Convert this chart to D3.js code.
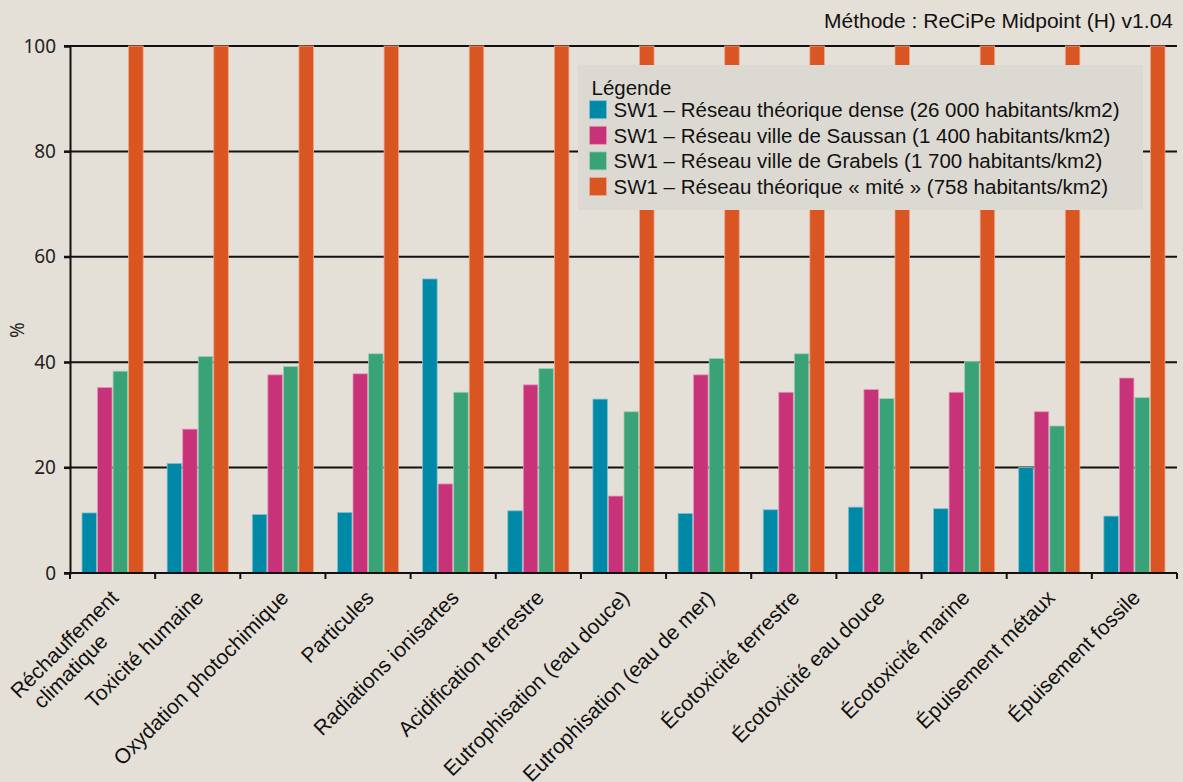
<!DOCTYPE html>
<html><head><meta charset="utf-8">
<script src="https://cdn.jsdelivr.net/npm/d3@7"></script>
<style>
html,body{margin:0;padding:0;background:#e5e0d7;}
svg{display:block;}
</style></head>
<body>
<svg id="c" width="1183" height="782"></svg>
<script>
const categories = [
  ["Réchauffement","climatique"],
  ["Toxicité humaine"],
  ["Oxydation photochimique"],
  ["Particules"],
  ["Radiations ionisartes"],
  ["Acidification terrestre"],
  ["Eutrophisation (eau douce)"],
  ["Eutrophisation (eau de mer)"],
  ["Écotoxicité terrestre"],
  ["Écotoxicité eau douce"],
  ["Écotoxicité marine"],
  ["Épuisement métaux"],
  ["Épuisement fossile"]
];
const seriesNames = [
  "SW1 – Réseau théorique dense (26 000 habitants/km2)",
  "SW1 – Réseau ville de Saussan (1 400 habitants/km2)",
  "SW1 – Réseau ville de Grabels (1 700 habitants/km2)",
  "SW1 – Réseau théorique « mité » (758 habitants/km2)"
];
const dense   = [11.4, 20.8, 11.1, 11.5, 55.8, 11.8, 33.0, 11.3, 12.0, 12.5, 12.2, 20.0, 10.8];
const saussan = [35.2, 27.3, 37.6, 37.8, 16.9, 35.7, 14.6, 37.6, 34.3, 34.8, 34.3, 30.6, 37.0];
const grabels = [38.3, 41.1, 39.2, 41.6, 34.3, 38.8, 30.6, 40.7, 41.6, 33.1, 40.1, 27.9, 33.3];
const mite    = [100, 100, 100, 100, 100, 100, 100, 100, 100, 100, 100, 100, 100];
const yTicks = [0, 20, 40, 60, 80, 100];
const colors = ["#0089a7", "#c83278", "#3aa277", "#d95622"];
const strokes = ["#7fc3cf", "#e397b9", "#9dd0bb", "#eca78f"];
const seriesValues = [dense, saussan, grabels, mite];

const FONT = "'Liberation Sans', Arial, sans-serif";
const svg = d3.select("#c");
const L = 70, R = 1177, T = 46, B = 573;
const catKeys = categories.map(c => c.join(" "));
const x0 = d3.scaleBand().domain(catKeys).range([L, R]).padding(0);
const bw = x0.bandwidth();
const x1 = d3.scaleBand().domain(d3.range(4)).range([bw*0.135, bw*0.865]).padding(0);
const y = d3.scaleLinear().domain([0, 100]).range([B, T]);

// gridlines
svg.append("g").selectAll("line").data(yTicks.filter(d => d > 0)).join("line")
  .attr("x1", L - 6).attr("x2", R).attr("y1", d => y(d)).attr("y2", d => y(d))
  .attr("stroke", "#111").attr("stroke-width", 2);

// bars
const g = svg.append("g");
categories.forEach((c, i) => {
  seriesValues.forEach((vals, s) => {
    g.append("rect")
      .attr("x", x0(catKeys[i]) + x1(s) + 0.5)
      .attr("y", y(vals[i]))
      .attr("width", x1.bandwidth() - 1)
      .attr("height", y(0) - y(vals[i]))
      .attr("fill", colors[s])
      .attr("stroke", strokes[s]).attr("stroke-width", 0.8);
  });
});

// y axis
const yAxis = d3.axisLeft(y).tickValues(yTicks).tickSize(6).tickPadding(8);
const ya = svg.append("g").attr("transform", `translate(${L},0)`).call(yAxis);
ya.select(".domain").attr("stroke", "#111").attr("stroke-width", 2);
ya.selectAll(".tick line").attr("stroke", "#111").attr("stroke-width", 2);
ya.selectAll(".tick text").attr("font-family", "'Noto Sans', sans-serif").attr("font-size", 19).attr("fill", "#222");

// x axis
const xa = svg.append("g").attr("transform", `translate(0,${B})`);
xa.append("line").attr("x1", L - 6).attr("x2", R).attr("y1", 0).attr("y2", 0).attr("stroke", "#111").attr("stroke-width", 2);
const bounds = catKeys.map(k => x0(k)).concat([R]);
xa.selectAll("line.t").data(bounds).join("line").attr("class", "t")
  .attr("x1", d => d).attr("x2", d => d).attr("y1", 0).attr("y2", 6)
  .attr("stroke", "#111").attr("stroke-width", 2);

// x labels
categories.forEach((lines, i) => {
  const cx = x0(catKeys[i]) + bw / 2 + 7;
  const t = svg.append("text")
    .attr("transform", `translate(${cx},${B + 26}) rotate(-45)`)
    .attr("font-family", FONT)
    .attr("font-size", 21).attr("fill", "#111");
  if (lines.length === 1) {
    t.attr("text-anchor", "end").text(lines[0]);
  } else {
    const t0 = t.append("tspan").text(lines[0]);
    const w0 = t0.node().getComputedTextLength();
    t0.attr("x", -w0).attr("y", 0);
    lines.slice(1).forEach((l, k) => {
      t.append("tspan").attr("x", -w0 + 9).attr("y", (k + 1) * 23.5).text(l);
    });
  }
});

// y label
svg.append("text").attr("transform", "translate(24,330) rotate(-90)")
  .attr("text-anchor", "middle").attr("font-family", "'Noto Sans', sans-serif")
  .attr("font-size", 19).attr("fill", "#222").text("%");

// title
svg.append("text").attr("x", 1173).attr("y", 28).attr("text-anchor", "end")
  .attr("font-family", FONT).attr("font-size", 21)
  .attr("fill", "#111").text("Méthode : ReCiPe Midpoint (H) v1.04");

// legend
const lg = svg.append("g").attr("transform", "translate(578,65)");
lg.append("rect").attr("width", 565).attr("height", 145).attr("fill", "#dcd9d3");
lg.append("text").attr("x", 13.5).attr("y", 29.5).attr("font-family", FONT)
  .attr("font-size", 20.5).attr("fill", "#111").text("Légende");
seriesNames.forEach((n, s) => {
  const yy = 35.7 + s * 25.6;
  lg.append("rect").attr("x", 11.5).attr("y", yy).attr("width", 17).attr("height", 18)
    .attr("fill", colors[s]).attr("stroke", strokes[s]).attr("stroke-width", 0.8);
  lg.append("text").attr("x", 35.5).attr("y", yy + 16.5).attr("font-family", FONT)
    .attr("font-size", 20.5).attr("fill", "#111").text(n);
});
</script>
</body></html>
